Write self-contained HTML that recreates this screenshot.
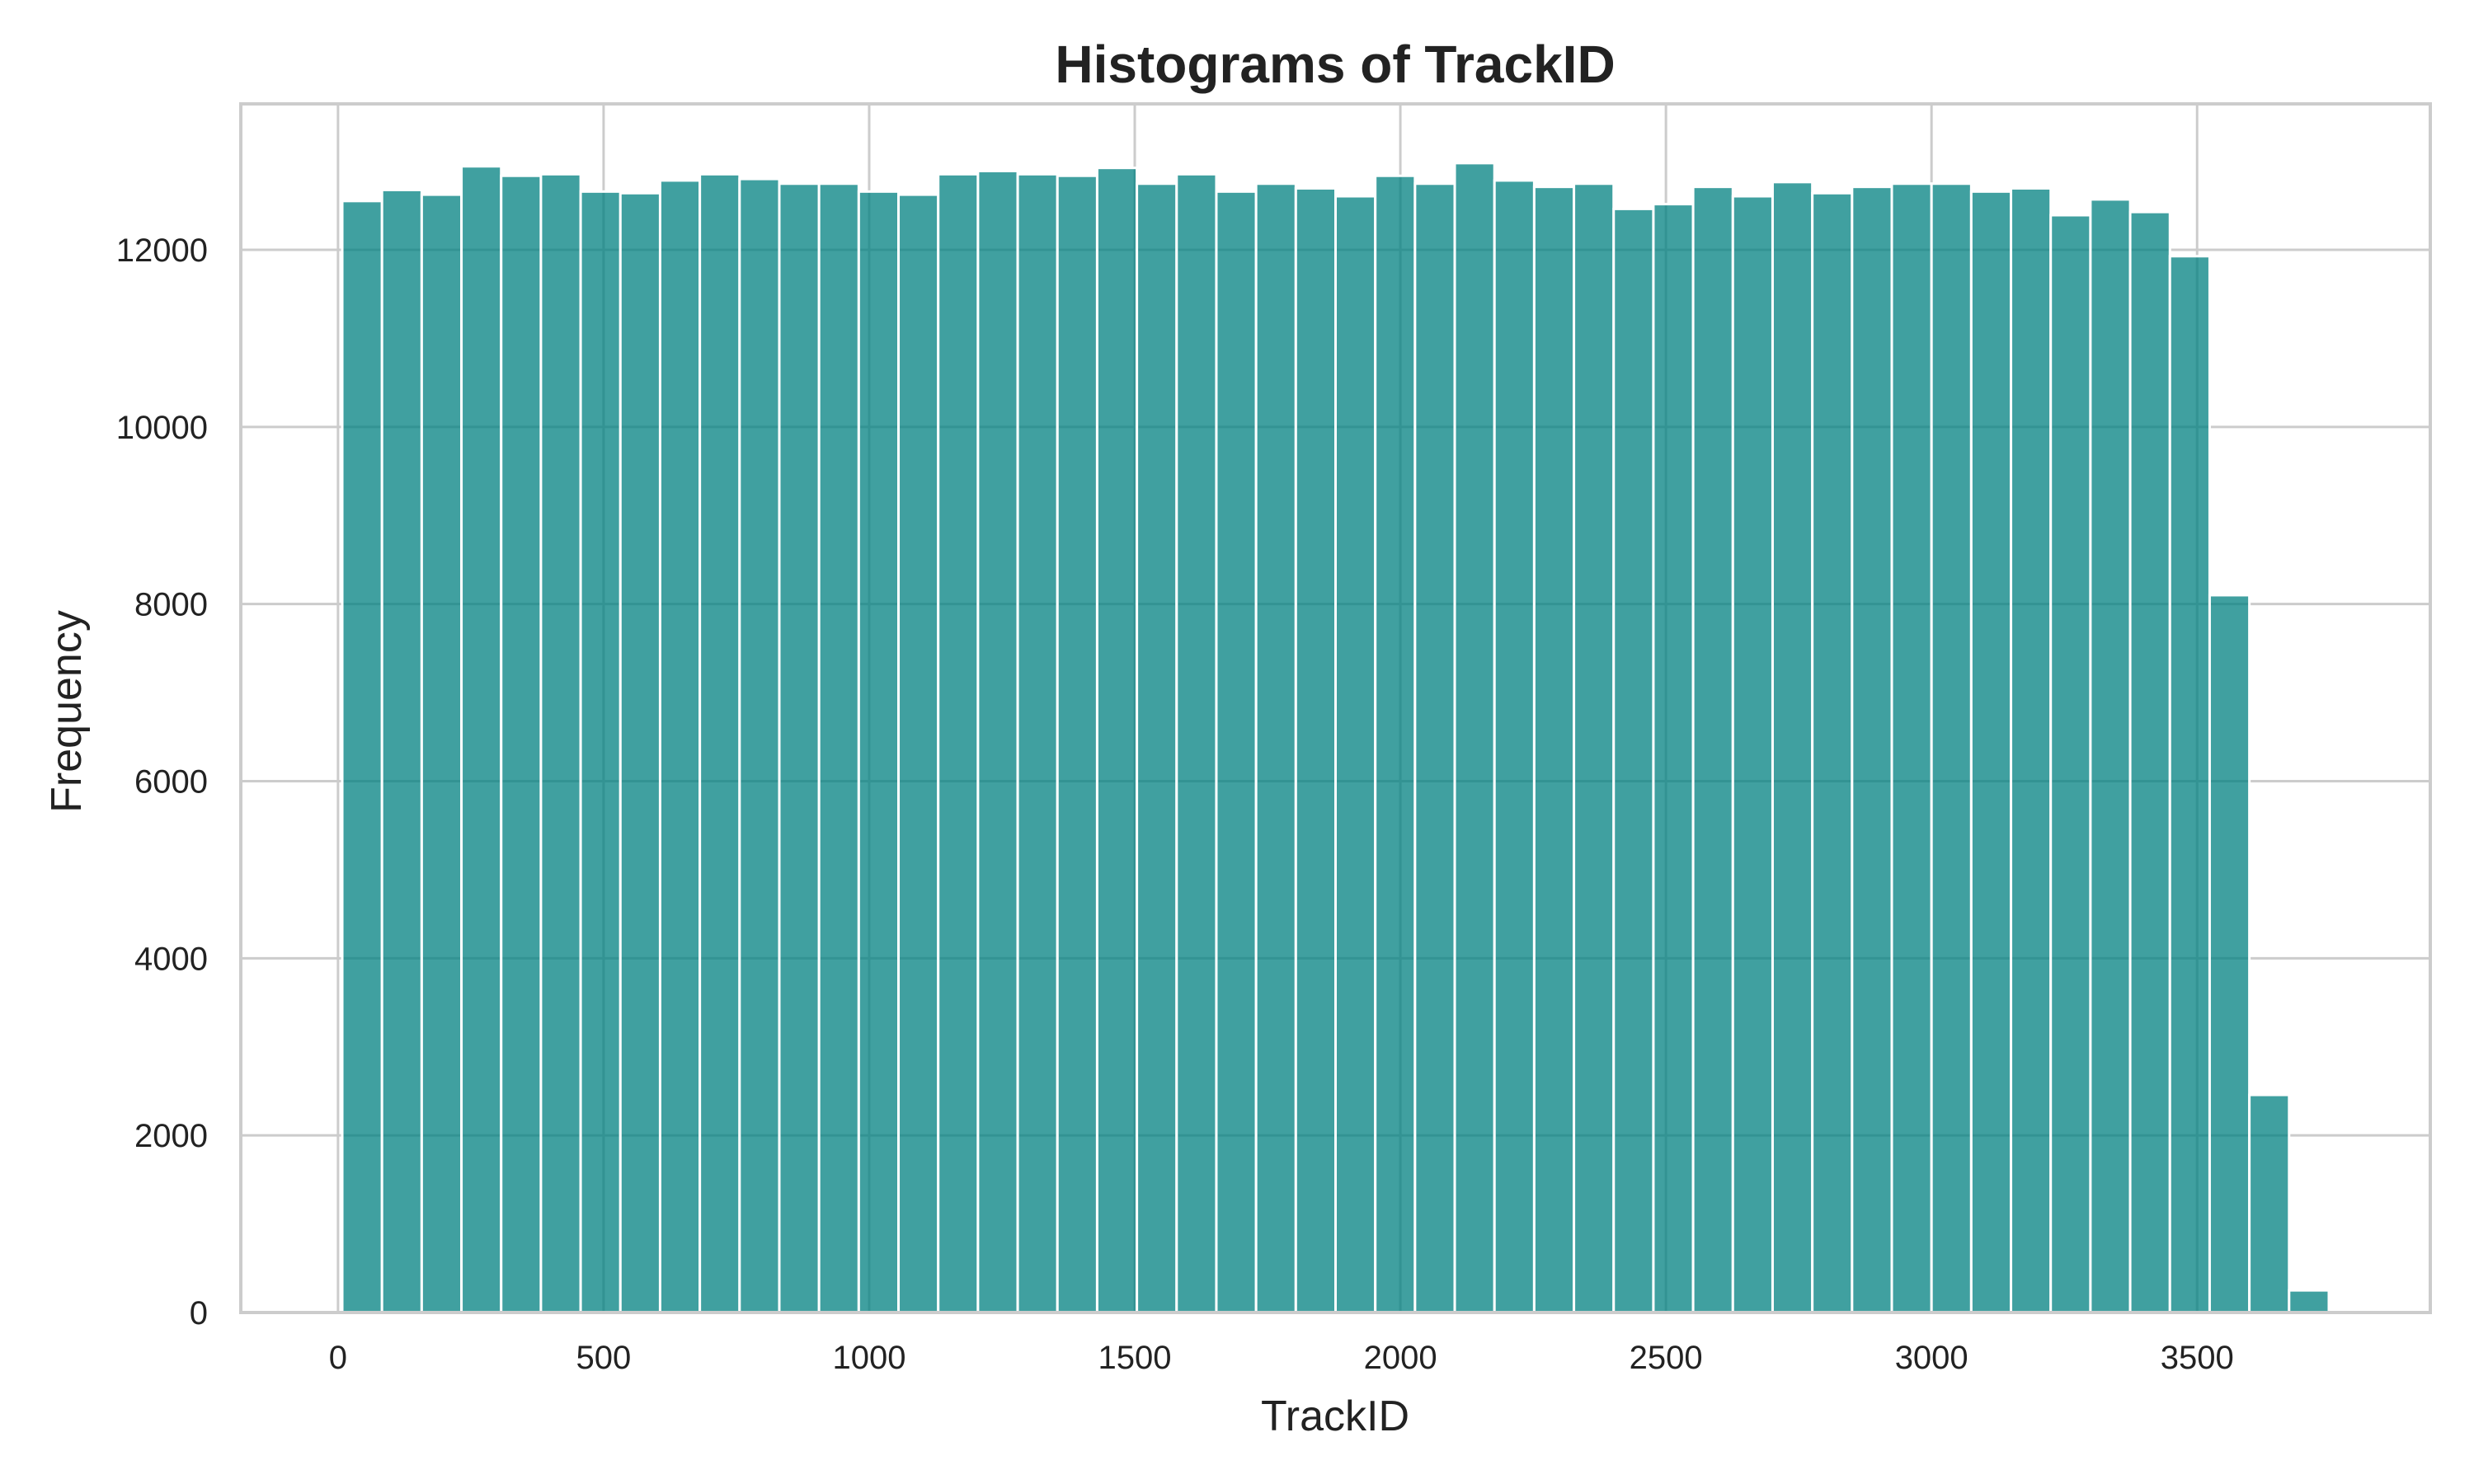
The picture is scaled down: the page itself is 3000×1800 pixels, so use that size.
<!DOCTYPE html>
<html><head><meta charset="utf-8"><style>
html,body{margin:0;padding:0;background:#fff;}
svg{display:block;font-family:"Liberation Sans",Arial,sans-serif;}
</style></head><body>
<svg id="chart" width="3000" height="1800" viewBox="0 0 3000 1800">
<rect x="0" y="0" width="3000" height="1800" fill="#fff"/>
<g id="grid"></g>
<g id="bars"></g>
<rect x="292" y="126" width="2655" height="1466" fill="none" stroke="#cccccc" stroke-width="4"/>
<g id="xticks"></g>
<g id="yticks"></g>
<text x="1619" y="100" text-anchor="middle" font-size="64" font-weight="bold" fill="#222">Histograms of TrackID</text>
<text x="1619" y="1735" text-anchor="middle" font-size="52" fill="#222">TrackID</text>
<text x="0" y="0" transform="translate(98,863) rotate(-90)" text-anchor="middle" font-size="52" fill="#222">Frequency</text>
</svg>
<script>
const binStart = 8;
const binWidth = 74.8;
const counts = [12551,12676,12623,12943,12836,12854,12658,12640,12783,12854,12800,12747,12747,12658,12623,12854,12890,12854,12836,12925,12747,12854,12658,12747,12694,12605,12836,12747,12979,12783,12711,12747,12462,12516,12711,12605,12765,12640,12711,12747,12747,12658,12694,12391,12569,12427,11928,8100,2457,250];
const xTicks = [0,500,1000,1500,2000,2500,3000,3500];
const yTicks = [0,2000,4000,6000,8000,10000,12000];

const NS = "http://www.w3.org/2000/svg";
const L = 292, R = 2947, T = 126, B = 1592;
const xMin = -183, xMax = 3939, yMax = 13648;
function xs(v){ return L + (v - xMin) / (xMax - xMin) * (R - L); }
function ys(v){ return B - v / yMax * (B - T); }
function mk(tag, attrs){ const e = document.createElementNS(NS, tag); for (const k in attrs) e.setAttribute(k, attrs[k]); return e; }

const grid = document.getElementById('grid');
xTicks.forEach(t => {
  const l = mk('line', {x1: xs(t), x2: xs(t), y1: T, y2: B, stroke: '#cccccc', 'stroke-width': 3});
  
  
  grid.appendChild(l);
});
yTicks.forEach(t => {
  const l = mk('line', {x1: L, x2: R, y1: ys(t), y2: ys(t), stroke: '#cccccc', 'stroke-width': 3});
  
  
  grid.appendChild(l);
});

const bars = document.getElementById('bars');
counts.forEach((c, i) => {
  const x0 = xs(binStart + i * binWidth), x1 = xs(binStart + (i + 1) * binWidth);
  const r = mk('rect', {x: x0, y: ys(c), width: x1 - x0, height: ys(0) - ys(c), fill: 'rgba(0,128,128,0.75)', stroke: '#fff', 'stroke-width': 3});
  
  
  bars.appendChild(r);
});

const xg = document.getElementById('xticks');
xTicks.forEach(t => {
  const tx = mk('text', {x: xs(t), y: 1660, 'text-anchor': 'middle', 'font-size': 40, fill: '#222'});
  tx.textContent = t;
  
  
  xg.appendChild(tx);
});
const yg = document.getElementById('yticks');
yTicks.forEach(t => {
  const tx = mk('text', {x: 252, y: ys(t) + 14, 'text-anchor': 'end', 'font-size': 40, fill: '#222'});
  tx.textContent = t;
  
  
  yg.appendChild(tx);
});
</script>
</body></html>
